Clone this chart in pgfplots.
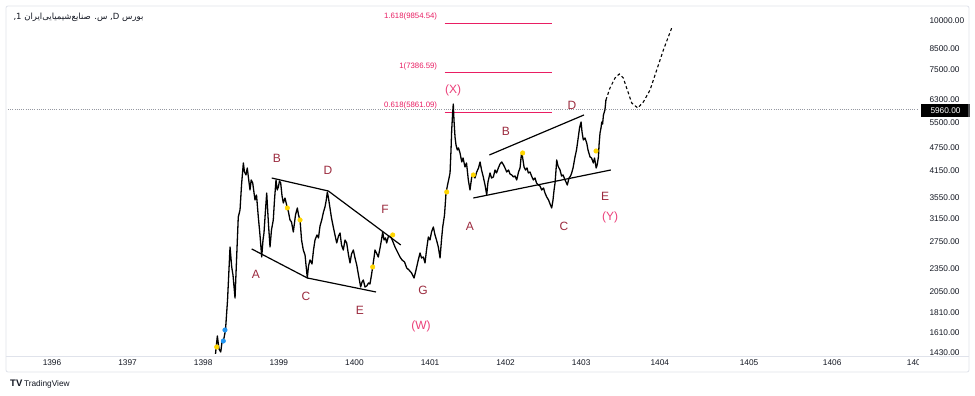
\documentclass[border=0pt]{standalone}
\usepackage{pgfplots}
\pgfplotsset{compat=1.18}
\usepackage{pgfplotstable}
\usepackage{fontspec}
\setmainfont{Liberation Sans}
\newfontfamily\arabicfont[Script=Arabic]{DejaVu Sans}
\TeXXeTstate=1
\definecolor{txt}{HTML}{131722}
\definecolor{wave}{HTML}{9C2B3F}
\definecolor{fib}{HTML}{E91E63}
\definecolor{pinklbl}{HTML}{EC407A}
\definecolor{framec}{HTML}{E0E3EB}
\definecolor{dotgray}{HTML}{9598A1}
\definecolor{ydot}{HTML}{FFD600}
\definecolor{bdot}{HTML}{2196F3}

\pgfplotstableread{
year price
1398.163 1422
1398.187 1580
1398.209 1464
1398.232 1438
1398.249 1525
1398.275 1561
1398.295 1636
1398.322 1950
1398.355 2661
1398.377 2367
1398.394 2258
1398.421 1973
1398.441 2466
1398.464 3172
1398.487 3305
1398.507 3826
1398.531 4352
1398.546 4129
1398.566 4057
1398.583 4227
1398.599 3986
1398.619 3716
1398.635 3940
1398.655 3871
1398.685 3504
1398.705 3608
1398.729 3172
1398.751 2855
1398.774 2509
1398.791 2772
1398.804 2888
1398.824 3305
1398.840 3651
1398.864 3027
1398.884 2661
1398.903 2939
1398.927 3117
1398.943 3504
1398.963 3940
1398.979 3716
1398.994 3781
1399.009 3917
1399.025 3871
1399.043 3587
1399.060 3443
1399.082 3545
1399.113 3344
1399.128 3266
1399.148 3117
1399.168 3080
1399.192 2905
1399.221 3209
1399.245 3344
1399.261 3209
1399.281 3117
1399.301 2772
1399.324 2614
1399.347 2539
1399.360 2394
1399.377 2219
1399.393 2380
1399.413 2466
1399.439 2408
1399.459 2614
1399.479 2772
1399.505 2855
1399.525 2805
1399.545 3009
1399.568 3117
1399.591 3266
1399.611 3363
1399.628 3504
1399.642 3672
1399.657 3545
1399.677 3344
1399.697 3153
1399.721 2991
1399.743 2855
1399.766 2724
1399.790 2838
1399.810 2888
1399.830 2692
1399.853 2614
1399.876 2772
1399.898 2724
1399.922 2539
1399.942 2423
1399.962 2554
1399.986 2614
1400.008 2495
1400.031 2394
1400.054 2258
1400.083 2105
1400.101 2167
1400.118 2193
1400.140 2105
1400.163 2117
1400.187 2155
1400.206 2142
1400.226 2258
1400.242 2367
1400.259 2495
1400.272 2614
1400.292 2569
1400.316 2509
1400.339 2645
1400.358 2772
1400.374 2905
1400.392 2772
1400.411 2805
1400.427 2724
1400.451 2838
1400.484 2821
1400.511 2740
1400.537 2661
1400.570 2584
1400.603 2509
1400.630 2466
1400.663 2437
1400.692 2353
1400.722 2325
1400.756 2285
1400.789 2219
1400.815 2325
1400.845 2466
1400.868 2569
1400.888 2495
1400.912 2509
1400.934 2423
1400.954 2614
1400.978 2821
1401.000 2772
1401.020 2905
1401.044 2991
1401.066 2855
1401.086 2772
1401.110 2661
1401.133 2495
1401.152 2772
1401.168 2991
1401.192 3209
1401.212 3651
1401.232 3826
1401.252 3986
1401.265 4105
1401.278 4697
1401.287 5281
1401.298 5766
1401.308 6149
1401.317 5599
1401.331 5068
1401.344 4836
1401.361 4697
1401.377 4752
1401.397 4615
1401.410 4482
1401.420 4378
1401.437 4482
1401.463 4251
1401.483 4352
1401.507 3940
1401.529 3716
1401.552 4010
1401.573 4057
1401.595 3986
1401.618 4129
1401.642 4227
1401.662 4378
1401.682 4177
1401.705 4010
1401.728 3826
1401.750 3608
1401.767 3894
1401.794 4105
1401.814 3986
1401.838 4010
1401.860 4177
1401.880 4105
1401.904 4227
1401.926 4327
1401.949 4378
1401.973 4302
1401.992 4227
1402.015 4129
1402.039 4177
1402.058 4081
1402.081 4057
1402.105 4010
1402.125 4033
1402.147 3940
1402.171 4129
1402.191 4227
1402.204 4482
1402.213 4642
1402.230 4430
1402.244 4251
1402.263 4177
1402.283 4227
1402.301 4105
1402.323 4129
1402.343 4033
1402.367 3940
1402.389 3986
1402.409 3871
1402.433 3826
1402.455 3804
1402.478 3716
1402.502 3759
1402.521 3651
1402.544 3566
1402.568 3504
1402.588 3423
1402.610 3344
1402.627 3504
1402.641 3716
1402.654 3871
1402.667 4177
1402.676 4430
1402.693 4276
1402.720 4177
1402.740 4033
1402.760 4057
1402.786 3940
1402.799 3894
1402.816 3826
1402.839 3986
1402.859 4033
1402.874 4105
1402.892 4227
1402.918 4508
1402.938 4697
1402.962 5068
1402.978 5343
1402.998 5534
1403.011 5219
1403.028 4980
1403.050 5039
1403.073 4893
1403.090 4697
1403.117 4508
1403.137 4482
1403.160 4352
1403.176 4482
1403.198 4227
1403.211 4302
1403.228 4508
1403.236 4836
1403.249 5189
1403.262 5343
1403.272 5534
1403.283 5469
1403.294 5766
1403.314 5937
1403.327 6295
}\pricedata

\pgfplotstableread{
year price
1403.327 6295
1403.381 6754
1403.447 7161
1403.504 7331
1403.557 7161
1403.610 6675
1403.668 6186
1403.748 6007
1403.822 6222
1403.911 6675
1403.999 7505
1404.087 8438
1404.197 9598
}\projdata

\begin{document}
\begin{tikzpicture}
\useasboundingbox (-8pt,-40pt) rectangle (967pt,356pt);
\fill[white] (-8pt,-40pt) rectangle (967pt,356pt);
\begin{axis}[at={(0pt,0pt)},anchor=south west,scale only axis,
  width=910pt,height=348pt,
  xmin=1395.418,xmax=1407.455,
  ymode=log,ymin=1405,ymax=10791,
  axis line style={draw=none},
  major tick length=0pt,minor tick length=0pt,
  xtick={1396,1397,1398,1399,1400,1401,1402,1403,1404.04,1405.22,1406.32,1407.43},
  xticklabels={1396,1397,1398,1399,1400,1401,1402,1403,1404,1405,1406,1407},
  ytick={1430,1610,1810,2050,2350,2750,3150,3550,4150,4750,5500,6300,7500,8500,10000},
  yticklabels={1430.00,1610.00,1810.00,2050.00,2350.00,2750.00,3150.00,3550.00,4150.00,4750.00,5500.00,6300.00,7500.00,8500.00,10000.00},
  minor ytick={},
  yticklabel pos=right,
  ticklabel style={font=\fontsize{8.3}{10}\selectfont,text=txt},
  yticklabel style={anchor=west,xshift=8pt},
  xticklabel style={yshift=-0.5pt},
  clip=true,
]
% price reference line
\addplot[dotgray,line width=0.6pt,dash pattern=on 1pt off 1.2pt] coordinates {(1395.418,5960) (1407.455,5960)};
% Fibonacci levels
\addplot[fib,line width=1.2pt] coordinates {(1401.192,9854.54) (1402.614,9854.54)};
\addplot[fib,line width=1.2pt] coordinates {(1401.192,7386.59) (1402.614,7386.59)};
\addplot[fib,line width=1.2pt] coordinates {(1401.192,5861.09) (1402.614,5861.09)};
% trend lines
\addplot[black,line width=1.2pt] coordinates {(1398.642,2630) (1399.377,2219) (1400.286,2044)};
\addplot[black,line width=1.2pt] coordinates {(1398.906,3986) (1399.655,3694) (1400.613,2692)};
\addplot[black,line width=1.2pt] coordinates {(1401.785,4561) (1403.037,5766)};
\addplot[black,line width=1.2pt] coordinates {(1401.573,3545) (1403.391,4177)};
% price
\addplot[black,line width=1.3pt,line join=round] table[x=year,y=price] {\pricedata};
% projection
\addplot[black,line width=1.1pt,dash pattern=on 3pt off 2.5pt] table[x=year,y=price] {\projdata};
% markers
\addplot[only marks,mark=*,mark size=2.3pt,color=ydot] coordinates {
 (1398.179,1481) (1399.113,3344) (1399.281,3117) (1400.242,2367) (1400.507,2855)
 (1401.221,3672) (1401.573,4057) (1402.226,4615) (1403.196,4669)};
\addplot[only marks,mark=*,mark size=2.3pt,color=bdot] coordinates {(1398.266,1534) (1398.288,1636)};
% fib labels
\node[anchor=east,text=fib,font=\fontsize{7.8}{9}\selectfont,yshift=6.5pt] at (axis cs:1401.14,9854.54) {1.618(9854.54)};
\node[anchor=east,text=fib,font=\fontsize{7.8}{9}\selectfont,yshift=6.5pt] at (axis cs:1401.14,7386.59) {1(7386.59)};
\node[anchor=east,text=fib,font=\fontsize{7.8}{9}\selectfont,yshift=6.5pt] at (axis cs:1401.14,5861.09) {0.618(5861.09)};
% wave labels
\tikzset{wl/.style={text=wave,font=\fontsize{12}{14}\selectfont,inner sep=0pt},
         pl/.style={text=pinklbl,font=\fontsize{12}{14}\selectfont,inner sep=0pt}}
\node[wl] at (axis cs:1398.976,4482) {B};
\node[wl] at (axis cs:1399.651,4177) {D};
\node[wl] at (axis cs:1398.698,2271) {A};
\node[wl] at (axis cs:1399.360,1997) {C};
\node[wl] at (axis cs:1400.074,1840) {E};
\node[wl] at (axis cs:1400.405,3324) {F};
\node[wl] at (axis cs:1400.908,2068) {G};
\node[pl] at (axis cs:1400.881,1675) {(W)};
\node[pl] at (axis cs:1401.305,6675) {(X)};
\node[wl] at (axis cs:1401.529,3009) {A};
\node[wl] at (axis cs:1402.005,5250) {B};
\node[wl] at (axis cs:1402.773,3009) {C};
\node[wl] at (axis cs:1402.878,6113) {D};
\node[wl] at (axis cs:1403.315,3587) {E};
\node[pl] at (axis cs:1403.381,3172) {(Y)};
\end{axis}
% cover cut-off time label
\fill[white] (910.5pt,-1pt) rectangle (960pt,-15pt);
% price box
\fill[black] (913pt,238.5pt) rectangle (962pt,251.5pt);
\node[text=white,font=\fontsize{8.3}{10}\selectfont] at (937.5pt,245pt) {5960.00};
% frame
\draw[framec,line width=0.8pt,rounded corners=2pt] (-2pt,-16pt) rectangle (961pt,350pt);
\draw[framec,line width=0.8pt] (-2pt,0pt) -- (961pt,0pt);
% title
\node[anchor=west,text=txt,font=\fontsize{8.5}{10}\selectfont] at (2pt,338.5pt)
  {\arabicfont 1, \beginR س. صنایع‌شیمیایی‌ایران\endR\ ,D \beginR بورس\endR};
% footer
\node[anchor=west,text=txt,inner sep=0pt] at (2pt,-28pt) {{\fontsize{9.5}{10}\selectfont\textbf{TV}}\,{\fontsize{8.3}{10}\selectfont TradingView}};
\end{tikzpicture}
\end{document}
